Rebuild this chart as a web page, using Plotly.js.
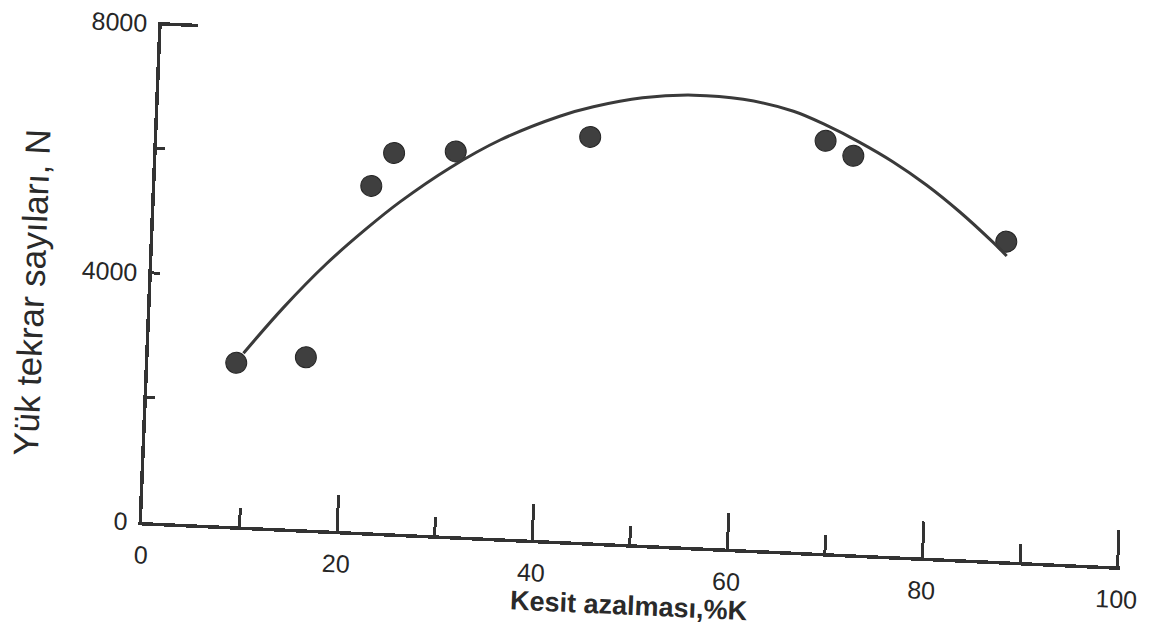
<!DOCTYPE html>
<html>
<head>
<meta charset="utf-8">
<script src="https://cdn.plot.ly/plotly-3.0.1.min.js"></script>
<style>
  html, body { margin: 0; padding: 0; overflow: hidden; background: #ffffff; }
  #chart {
    width: 1155px; height: 635px;
    /* the scanned figure is slightly skewed: x axis falls to the right, y axis leans right */
    transform-origin: 142px 522px;
    transform: matrix(1, 0.0455, -0.0396, 1, 0, 0);
  }
</style>
</head>
<body>
<div id="chart"></div>
<script>
// Measured points: reduction in section (%K) vs. number of load repetitions N
const reductionPct = [9.0, 16.1, 22.1, 24.3, 30.6, 44.3, 68.4, 71.3, 87.3];
const loadRepetitions = [2620, 2760, 5555, 6100, 6170, 6500, 6610, 6390, 5125];

// Fitted curve as drawn on the figure
const curveX = [9.7, 13.6, 17.8, 21.8, 25.1, 30.1, 35.1, 41.1, 44.5, 49.5, 54.7, 59.8, 65.0, 68.4, 71.9, 75.4, 78.9, 82.4, 85.9, 87.4];
const curveY = [2780, 3540, 4270, 4870, 5320, 5905, 6385, 6810, 6985, 7165, 7245, 7215, 7060, 6860, 6610, 6320, 5975, 5570, 5110, 4895];

// Axis ticks
const xMajorStep = 20;
const xMinorStep = 10;
const yTickVals = [0, 2000, 4000, 6000, 8000];
const yTickText = ['0', '', '4000', '', '8000'];
const yCapVals = [8000];

const xTitle = 'Kesit azalması,%K';
const yTitle = 'Yük tekrar sayıları, N';

const ink = '#333333';
const textInk = '#262626';
const regular = 'Liberation Sans, Arial, sans-serif';

const traces = [
  {
    x: curveX, y: curveY, type: 'scatter', mode: 'lines',
    line: { color: '#3a3a3a', width: 3, shape: 'spline', smoothing: 1 },
    yaxis: 'y2', hoverinfo: 'skip', showlegend: false
  },
  {
    x: reductionPct, y: loadRepetitions, type: 'scatter', mode: 'markers',
    marker: { color: '#3f3f3f', size: 21, line: { color: '#262626', width: 1 } },
    showlegend: false
  }
];

const layout = {
  width: 1155, height: 635,
  margin: { l: 142, r: 35, t: 22, b: 113 },
  paper_bgcolor: '#ffffff', plot_bgcolor: '#ffffff',
  font: { family: regular, color: textInk, size: 25 },
  showlegend: false,
  xaxis: {
    range: [0, 100.25], dtick: xMajorStep, tick0: 0,
    ticks: 'inside', ticklen: 36, tickwidth: 3, tickcolor: ink,
    minor: { dtick: xMinorStep, ticks: 'inside', ticklen: 18, tickwidth: 3, tickcolor: ink },
    showline: true, linewidth: 3.5, linecolor: ink,
    showgrid: false, zeroline: false,
    tickfont: { family: regular, size: 25, color: textInk },
    ticklabelstandoff: 8,
    title: { text: xTitle, font: { family: regular, size: 27, color: '#2a2a2a', weight: 'bold' }, standoff: 0 },
    fixedrange: true
  },
  yaxis: {
    range: [0, 8030], tickvals: yTickVals, ticktext: yTickText,
    ticks: 'inside', ticklen: 8, tickwidth: 3, tickcolor: ink,
    showline: true, linewidth: 3.5, linecolor: ink,
    showgrid: false, zeroline: false,
    tickfont: { family: regular, size: 25, color: textInk },
    ticklabelstandoff: 6,
    fixedrange: true
  },
  yaxis2: {
    overlaying: 'y', side: 'left', matches: 'y', range: [0, 8030],
    tickvals: yCapVals, showticklabels: false,
    ticks: 'inside', ticklen: 36, tickwidth: 3.5, tickcolor: ink,
    showline: false, showgrid: false, zeroline: false, fixedrange: true
  },
  annotations: [
    {
      text: yTitle, textangle: -90, showarrow: false,
      xref: 'paper', yref: 'paper', x: -0.1224, y: 0.448,
      xanchor: 'center', yanchor: 'middle',
      font: { family: regular, size: 35, color: '#2a2a2a' }
    }
  ]
};

Plotly.newPlot('chart', traces, layout, { displayModeBar: false, staticPlot: true });
</script>
</body>
</html>
